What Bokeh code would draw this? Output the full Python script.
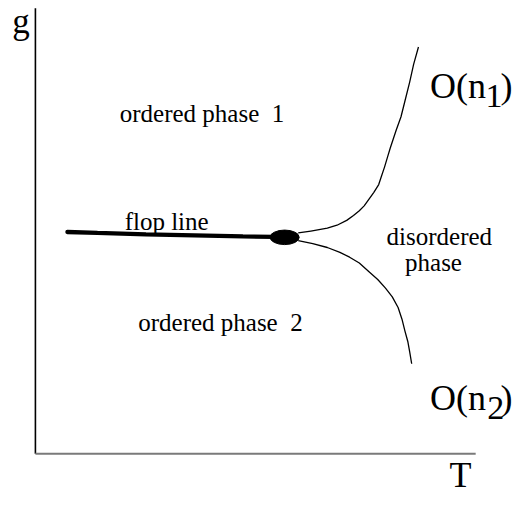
from bokeh.plotting import figure
from bokeh.models import Range1d, Label
from bokeh.embed import file_html
from bokeh.resources import INLINE

# Schematic phase diagram data (T, g) in arbitrary units
flop_T = [33, 64, 114, 164, 214, 246]
flop_g = [229, 228, 226.5, 225.5, 224.5, 224]

tetra_T = [257]
tetra_g = [223.5]

upper_T = [271, 284, 301, 311, 321, 328, 334, 339, 344, 349, 354, 357, 360,
           363, 366, 369, 372, 377, 381, 386, 390, 395]
upper_g = [228, 230, 233, 236, 241, 246, 251, 256, 263, 270, 278, 287, 296,
           306, 316, 325, 334, 348, 364, 384, 402, 420]

lower_T = [271, 286, 301, 314, 324, 334, 344, 353, 361, 368, 374, 378, 381,
           384, 386, 388]
lower_g = [220, 217, 213, 208, 203, 197, 188, 180, 171, 162, 151, 139, 127,
           116, 105, 93]

axis_T_max = 454
axis_g_max = 460

FONT = "Liberation Serif"

p = figure(width=513, height=494, output_backend="svg", toolbar_location=None,
           x_range=Range1d(-36, 493), y_range=Range1d(-42, 468),
           min_border=0, min_border_left=0, min_border_right=0,
           min_border_top=0, min_border_bottom=0)
p.axis.visible = False
p.grid.visible = False
p.outline_line_color = None
p.background_fill_color = "white"
p.border_fill_color = "white"

# axes
p.line([0, 0], [0, axis_g_max], line_color="black", line_width=1.6)
p.line([0, axis_T_max], [0, 0], line_color="#7a7a7a", line_width=2)

# curves
p.line(flop_T, flop_g, line_color="black", line_width=4.3, line_cap="round")
p.line(upper_T, upper_g, line_color="black", line_width=1.3, line_join="round")
p.line(lower_T, lower_g, line_color="black", line_width=1.3, line_join="round")
p.ellipse(tetra_T, tetra_g, width=30, height=15, fill_color="black", line_color="black")

def lab(x, y, t, size, align="left"):
    p.add_layout(Label(x=x, y=y, text=t, text_font=FONT, text_font_size=size,
                       text_align=align, text_baseline="alphabetic", text_color="black"))

lab(-24, 446, "g", "35px")
lab(427, -22, "T", "36px")
lab(87, 351, "ordered phase \u00a01", "25px")
lab(106, 136, "ordered phase \u00a02", "25px")
lab(92, 240, "flop line", "25px")
lab(416.5, 224, "disordered", "25px", "center")
lab(410.5, 198, "phase", "25px", "center")
lab(407, 380, "O(n", "36px")
lab(464, 369, "1", "34px")
lab(479.5, 380, ")", "36px")
lab(407, 58, "O(n", "36px")
lab(466, 47, "2", "34px")
lab(479.5, 58, ")", "36px")

open("out.html", "w").write(file_html(p, INLINE))
